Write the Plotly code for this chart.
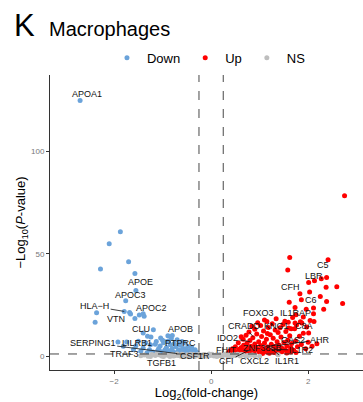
import plotly.graph_objects as go

# ---------------- data ----------------
down_x = [-2.70, -1.87, -2.10, -1.70, -2.28, -1.57, -1.55, -1.76, -1.79, -1.68, -1.66, -2.36, -2.39,
          -1.57, -1.48, -1.40, -1.38, -1.19, -1.40, -1.31, -1.24, -1.04, -0.89, -0.80, -1.13, -1.92,
          -1.74, -1.81, -1.55, -1.40, -1.27,
          -1.15, -1.05, -0.98, -0.92, -0.88, -0.84, -0.80, -0.76, -0.72, -0.70, -0.66, -0.63, -0.60,
          -0.58, -0.55, -0.52, -0.50, -0.48, -0.45, -0.43, -0.40, -0.38, -0.35, -0.33, -0.30, -0.28,
          -1.10, -1.02, -0.95, -0.90, -0.86, -0.78, -0.74, -0.68, -0.62, -0.56, -0.46, -1.20, -1.32,
          -1.45, -1.60, -1.00, -0.82, -0.94, -0.66, -0.60, -1.08, -0.70, -0.52, -0.40, -1.25, -1.35,
          -1.50, -0.64, -0.58, -0.72]
down_y = [124.6, 60.8, 54.9, 46.1, 42.6, 40.4, 32.2, 27.2, 22.0, 21.5, 20.8, 21.4, 16.7,
          18.6, 20.2, 20.9, 19.7, 13.1, 11.5, 9.9, 9.6, 9.1, 10.2, 10.3, 7.4, 7.1,
          7.1, 5.0, 5.3, 4.2, 3.4,
          6.0, 5.2, 6.8, 4.5, 7.6, 5.8, 3.9, 6.4, 4.8, 8.2, 3.2, 5.5, 2.6,
          4.1, 6.9, 3.6, 2.2, 5.0, 3.0, 1.9, 4.4, 2.5, 1.7, 3.3, 2.1, 1.6,
          3.0, 2.4, 3.4, 2.0, 2.9, 2.3, 1.8, 2.7, 1.6, 2.0, 1.5, 2.2, 1.9,
          2.6, 3.5, 8.0, 8.8, 7.2, 6.2, 7.4, 4.0, 1.5, 1.5, 1.6, 5.8, 6.8,
          7.5, 1.9, 2.8, 1.7]

up_x = [2.75, 1.62, 2.41, 1.58, 2.38, 2.27, 2.13, 2.01, 2.59, 2.37, 2.03, 1.83, 1.86, 2.25, 2.38,
        2.71, 1.61, 1.73, 1.96, 2.11, 2.32, 2.11, 1.90, 1.75, 1.59, 1.73, 1.87, 2.04, 2.12, 1.65,
        1.97, 2.18, 2.01, 1.15,
        0.35, 0.40, 0.45, 0.48, 0.52, 0.55, 0.58, 0.60, 0.62, 0.65, 0.67, 0.70, 0.72, 0.74, 0.76,
        0.78, 0.80, 0.82, 0.84, 0.86, 0.88, 0.90, 0.92, 0.94, 0.96, 0.98, 1.00, 1.02, 1.04, 1.06,
        1.08, 1.10, 1.12, 1.14, 1.16, 1.18, 1.20, 1.22, 1.24, 1.26, 1.28, 1.30, 1.32, 1.34, 1.36,
        1.38, 1.40, 1.42, 1.44, 1.46, 1.48, 1.50, 1.52, 1.54, 1.56, 1.58, 1.60, 1.62, 1.64, 1.66,
        1.70, 1.72, 1.74, 1.78, 1.82, 1.86, 1.90, 1.95, 2.00, 2.08,
        0.66, 0.72, 0.78, 0.84, 0.90, 0.96, 1.02, 1.10, 1.16, 1.26, 1.34, 1.42, 1.52, 1.60, 1.68,
        1.76, 1.84, 0.56, 0.62, 0.50, 0.44, 0.38, 0.70, 0.88, 1.06, 1.20, 1.36, 1.56, 1.75, 0.98,
        1.14, 1.30, 1.46, 1.64]
up_y = [78.3, 48.2, 47.1, 42.2, 38.5, 37.9, 36.9, 36.1, 34.0, 33.7, 31.4, 30.6, 27.7, 29.3, 26.8,
        25.9, 26.4, 23.9, 23.1, 23.6, 23.1, 20.9, 19.3, 20.4, 16.7, 16.4, 16.4, 17.6, 17.1, 13.6,
        14.4, 6.3, 11.5, 17.1,
        1.6, 2.2, 1.8, 2.9, 1.5, 2.5, 3.6, 1.9, 4.4, 2.8, 5.6, 3.4, 2.0, 6.5, 4.2,
        1.7, 7.8, 5.0, 3.0, 9.2, 2.4, 6.1, 4.6, 11.0, 3.5, 7.2, 2.1, 5.4, 9.8, 3.9,
        12.5, 6.6, 2.8, 8.4, 4.7, 14.2, 3.3, 10.6, 6.0, 2.5, 8.9, 4.9, 13.0, 3.7, 7.3,
        11.8, 5.5, 2.9, 9.5, 4.1, 15.6, 6.9, 3.4, 12.2, 5.2, 8.0, 2.7, 10.1, 4.5, 6.4,
        3.1, 13.6, 7.6, 4.8, 9.9, 5.9, 11.4, 3.8, 7.0, 5.1,
        8.5, 10.4, 12.0, 14.8, 13.3, 16.5, 15.2, 17.8, 11.2, 16.0, 18.4, 14.0, 17.2, 13.9, 19.0,
        15.4, 17.0, 6.8, 9.7, 4.8, 3.8, 2.8, 1.5, 1.6, 1.5, 1.7, 1.6, 1.8, 2.0, 2.6,
        2.3, 2.0, 2.4, 2.2]

ns_x = [-1.45, -1.38, -1.30, -1.22, -1.15, -1.08, -1.02, -0.96, -0.90, -0.85, -0.80, -0.75, -0.70,
        -0.66, -0.62, -0.58, -0.54, -0.50, -0.46, -0.42, -0.38, -0.34, -0.30, -0.26, -0.22, -0.18,
        -0.14, -0.10, -0.06, -0.02, 0.02, 0.06, 0.10, 0.14, 0.18, 0.22, 0.26, 0.30, 0.34, 0.38,
        0.42, 0.46, 0.50, 0.55, 0.60, 0.66, 0.72, 0.80, 0.90, 1.00, 1.38,
        -1.25, -1.12, -0.98, -0.88, -0.78, -0.68, -0.60, -0.52, -0.44, -0.36, -0.28, -0.20, -0.12,
        -0.04, 0.04, 0.12, 0.20, 0.28, 0.36, 0.44, 0.52, 0.62, 0.75, 0.85]
ns_y = [0.40, 0.85, 0.20, 1.10, 0.55, 0.95, 0.30, 1.20, 0.65, 0.10, 1.00, 0.45, 1.25,
        0.70, 0.15, 1.05, 0.50, 0.90, 0.25, 1.15, 0.60, 0.05, 0.80, 1.22, 0.35, 0.75,
        1.10, 0.20, 0.95, 0.50, 1.18, 0.30, 0.85, 0.60, 1.05, 0.15, 0.70, 1.25, 0.40, 0.90,
        0.10, 1.00, 0.55, 1.20, 0.35, 0.80, 0.25, 0.65, 0.45, 0.20, 0.90,
        0.10, 1.25, 0.05, 0.95, 0.35, 0.60, 1.15, 0.20, 0.75, 1.00, 0.45, 0.10, 0.65,
        1.25, 0.70, 0.05, 0.50, 1.00, 0.15, 0.60, 0.95, 1.10, 0.50, 0.85]

# gene labels: text position (label_x, label_y), and the point a leader line goes to (or None)
labels = ["APOA1", "APOE", "APOC3", "HLA\u2212H", "VTN", "APOC2", "CLU", "APOB", "SERPING1",
          "LILRB1", "PTPRC", "TRAF3", "CSF1R", "TGFB1", "C5", "LBR", "CFH", "C6", "FOXO3",
          "IL1RAP", "CRADD", "KNG1", "C8A", "IDO2", "GAS2", "AHR", "ZNF385B", "FHIT", "IL1R2",
          "CFI", "CXCL2", "IL1R1"]
label_x = [-2.55, -1.46, -1.66, -2.40, -1.96, -1.23, -1.45, -0.64, -2.44,
           -1.52, -0.64, -1.79, -0.33, -1.02, 2.30, 2.12, 1.63, 2.06, 0.98,
           1.73, 0.68, 1.34, 1.92, 0.34, 1.69, 2.25, 1.06, 0.31, 1.86,
           0.32, 0.90, 1.57]
label_y = [128.0, 36.3, 30.1, 24.4, 18.3, 23.8, 13.4, 13.4, 6.6,
           6.6, 6.6, 1.3, 0.5, -3.1, 44.7, 39.0, 33.8, 27.7, 21.2,
           21.2, 15.0, 15.0, 15.0, 9.1, 8.3, 8.3, 4.2, 3.1, 3.1,
           -2.3, -2.3, -2.3]
lead_x = [None, None, None, -1.79, None, None, None, None, -0.70,
          None, None, None, None, None, None, None, None, None, None,
          None, 0.87, None, None, 0.80, 1.15, 1.35, None, None, 1.25,
          0.80, None, 1.22]
lead_y = [None, None, None, 22.0, None, None, None, None, 1.5,
          None, None, None, None, None, None, None, None, None, None,
          None, 9.6, None, None, 7.3, 4.6, 5.3, None, None, 3.6,
          3.3, None, 4.2]

fc_cut = 0.25
p_cut = 1.3
x_ticks = [-2, 0, 2]
y_ticks = [0, 50, 100]

# ---------------- figure ----------------
FONT = "Liberation Sans, Arial, sans-serif"
BLUE = "#6BA3DA"
RED = "#FF0000"
GREY = "#BEBEBE"

fig = go.Figure()
for name, xs, ys, col in [("Down", down_x, down_y, BLUE), ("Up", up_x, up_y, RED), ("NS", ns_x, ns_y, GREY)]:
    fig.add_trace(go.Scatter(x=xs, y=ys, mode="markers", name=name,
                             marker=dict(color=col, size=5, line=dict(width=0)),
                             cliponaxis=False))

annotations = []
for t, lx, ly, px, py in zip(labels, label_x, label_y, lead_x, lead_y):
    if px is None:
        annotations.append(dict(x=lx, y=ly, xref="x", yref="y", text=t, showarrow=False,
                                font=dict(size=9, color="#111111", family=FONT)))
    else:
        annotations.append(dict(x=px, y=py, xref="x", yref="y", ax=lx, ay=ly, axref="x", ayref="y",
                                text=t, showarrow=True, arrowhead=0, arrowwidth=0.8,
                                arrowcolor="#111111", standoff=0,
                                font=dict(size=9, color="#111111", family=FONT)))

annotations.append(dict(x=-0.1224, y=1.1688, xref="paper", yref="paper", text="K",
                        xanchor="left", yanchor="middle", showarrow=False,
                        font=dict(size=31, color="black", family=FONT)))
annotations.append(dict(x=-0.0105, y=1.156, xref="paper", yref="paper", text="Macrophages",
                        xanchor="left", yanchor="middle", showarrow=False,
                        font=dict(size=20, color="black", family=FONT)))

shapes = [
    dict(type="line", xref="x", yref="paper", x0=-fc_cut, x1=-fc_cut, y0=0, y1=1,
         line=dict(color="#333333", width=0.9, dash="dash")),
    dict(type="line", xref="x", yref="paper", x0=fc_cut, x1=fc_cut, y0=0, y1=1,
         line=dict(color="#333333", width=0.9, dash="dash")),
    dict(type="line", xref="paper", yref="y", x0=0, x1=1, y0=p_cut, y1=p_cut,
         line=dict(color="#333333", width=0.9, dash="dash")),
]

fig.update_layout(
    width=363, height=402,
    margin=dict(l=50, r=0, t=75, b=32, autoexpand=False),
    paper_bgcolor="white", plot_bgcolor="white",
    font=dict(family=FONT, color="black"),
    showlegend=True,
    legend=dict(orientation="h", x=0.182, xanchor="left", y=1.0586, yanchor="middle",
                font=dict(size=13, family=FONT, color="black"),
                itemsizing="trace", bgcolor="rgba(0,0,0,0)"),
    annotations=annotations,
    shapes=shapes,
    xaxis=dict(range=[-3.32, 3.13], tickvals=x_ticks, ticktext=["\u22122", "0", "2"],
               automargin=False,
               showgrid=False, zeroline=False, showline=True, linecolor="#333333", linewidth=1,
               ticks="outside", ticklen=3, tickcolor="#333333", tickwidth=1,
               tickfont=dict(size=8, color="#777777", family=FONT),
               title=dict(text="Log<sub>2</sub>(fold-change)", standoff=2,
                          font=dict(size=13, color="black", family=FONT))),
    yaxis=dict(range=[-6.5, 137], tickvals=y_ticks, automargin=False,
               showgrid=False, zeroline=False, showline=True, linecolor="#333333", linewidth=1,
               ticks="outside", ticklen=3, tickcolor="#333333", tickwidth=1,
               tickfont=dict(size=8, color="#777777", family=FONT),
               title=dict(text="\u2212Log<sub>10</sub>(<i>P</i>-value)", standoff=2,
                          font=dict(size=13, color="black", family=FONT))),
)

fig.write_html("out.html", config={"displayModeBar": False},
               post_script="document.body.style.margin='0';document.body.style.overflow='hidden';")
